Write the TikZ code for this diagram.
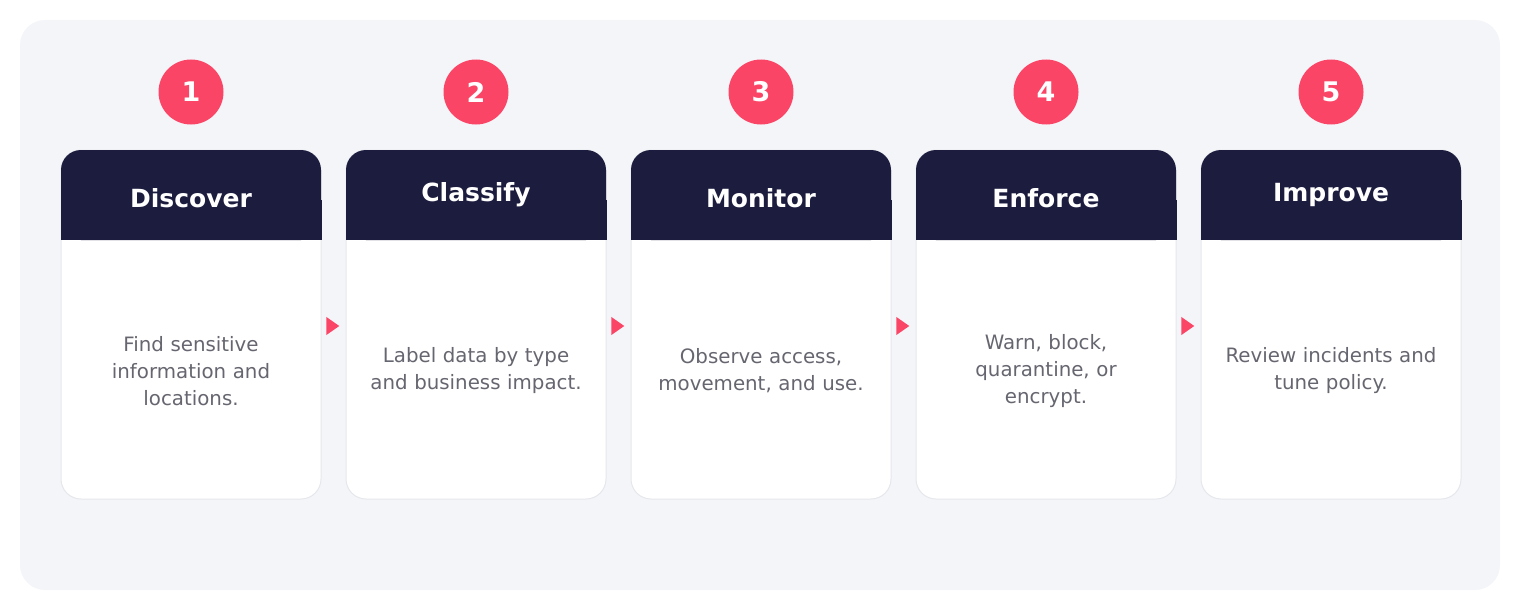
\documentclass[tikz,border=0pt]{standalone}
\usepackage{fontspec}
\setmainfont{DejaVu Sans}
\usetikzlibrary{shapes.geometric}
\definecolor{bg}{HTML}{F4F5F9}
\definecolor{navy}{HTML}{1C1C3F}
\definecolor{pinkc}{HTML}{FB4566}
\definecolor{txt}{HTML}{666670}
\definecolor{edge}{HTML}{E6E7EC}
\begin{document}
\begin{tikzpicture}[x=1pt,y=-1pt,
  card/.style={draw=edge,line width=1pt,fill=white,rounded corners=20pt},
  num/.style={circle,fill=pinkc,minimum size=65pt,inner sep=0pt,text=white,font=\bfseries\fontsize{27}{30}\selectfont},
  ttl/.style={text=white,font=\bfseries\fontsize{25}{28}\selectfont},
  body/.style={text=txt,align=center,font=\fontsize{19.8}{27}\selectfont,text width=250pt},
  tip/.style={fill=pinkc,isosceles triangle,isosceles triangle apex angle=70,minimum height=13pt,minimum width=15pt,inner sep=0pt}]
\useasboundingbox (0,0) rectangle (1520,610);
\fill[bg,rounded corners=25pt] (20,20) rectangle (1500,590);
\foreach \i/\t/\b/\ty in {1/Discover/{Find sensitive\\information and\\locations.}/198,
  2/Classify/{Label data by type\\and business impact.}/195,
  3/Monitor/{Observe access,\\movement, and use.}/198,
  4/Enforce/{Warn, block,\\quarantine, or\\encrypt.}/198,
  5/Improve/{Review incidents and\\tune policy.}/195}{
  \pgfmathsetmacro{\xl}{61+285*(\i-1)}
  \pgfmathsetmacro{\xc}{\xl+130}
  \draw[card] (\xl,150) rectangle ++(260,349);
  \fill[navy,rounded corners=20pt] (\xl,240) -- (\xl,150) -- ++(260,0) -- ++(0,90) -- cycle;
  \fill[navy] (\xl-0.5,200) rectangle ++(261,40);
  \node[num] (n\i) at (\xc,92) {\i};
  \node[ttl] (t\i) at (\xc,\ty) {\t};
  \node[body] (b\i) at (\xc,371) {\b};
}
\foreach \i in {1,...,4}{
  \pgfmathsetmacro{\xa}{61+285*(\i-1)+270}
  \node[tip] (a\i) at (\xa,326) {};
}
\end{tikzpicture}
\end{document}
